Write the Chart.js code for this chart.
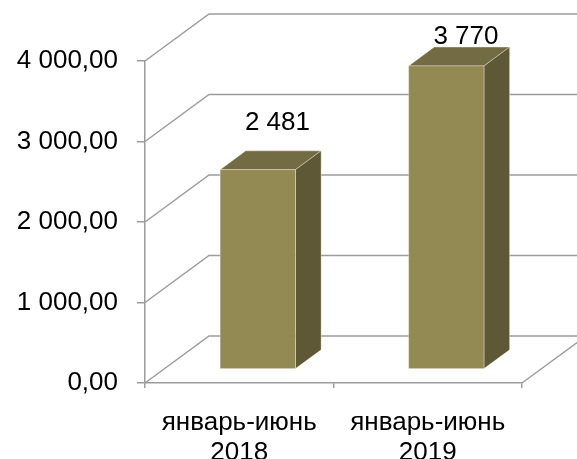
<!DOCTYPE html>
<html>
<head>
<meta charset="utf-8">
<script src="https://cdn.jsdelivr.net/npm/chart.js@4.4.0/dist/chart.umd.min.js"></script>
<style>
html, body { margin: 0; padding: 0; background: #fff; }
#wrap { width: 577px; height: 459px; }
</style>
</head>
<body>
<div id="wrap"><canvas id="chart" width="577" height="459"></canvas></div>
<script>
// данные
const categories = [['январь-июнь', '2018'], ['январь-июнь', '2019']];
const values = [2481, 3770];
const yTicks = [0, 1000, 2000, 3000, 4000];

// стили
const FRONT = '#938953', TOP = '#736B44', SIDE = '#5E5836';
const GRID = '#9c9c9c';
const DEPTH_X = 64, DEPTH_Y = 47;          // глубина "коробки"
const BAR_FRONT = 0.29, BAR_BACK = 0.69;   // положение столбика по глубине
const FONT = '"Liberation Sans", Arial, sans-serif';
const FONT_SIZE = 26;

function fmtThousands(s) {
    return s.replace(/\B(?=(\d{3})+(?!\d))/g, ' ');
}
function fmtTick(v) {
    const p = Number(v).toFixed(2).split('.');
    return fmtThousands(p[0]) + ',' + p[1];
}

// рисуем стенки, подписи и объёмные столбики
const box3d = {
    id: 'box3d',
    beforeDatasetsDraw(chart) {
        const ctx = chart.ctx, a = chart.chartArea, ys = chart.scales.y;
        ctx.save();
        ctx.strokeStyle = GRID;
        ctx.lineWidth = 1.5;
        ctx.beginPath();
        yTicks.forEach(v => {
            const py = ys.getPixelForValue(v);
            ctx.moveTo(a.left, py);
            ctx.lineTo(a.left + DEPTH_X, py - DEPTH_Y);
            ctx.lineTo(a.right + DEPTH_X, py - DEPTH_Y);
        });
        ctx.moveTo(a.right, a.bottom);
        ctx.lineTo(a.right + DEPTH_X, a.bottom - DEPTH_Y);
        ctx.stroke();

        const bars = chart.getDatasetMeta(0).data;

        // подписи значений (до столбиков - верх столбика их перекрывает)
        ctx.fillStyle = '#000';
        ctx.font = FONT_SIZE + 'px ' + FONT;
        ctx.textAlign = 'center';
        ctx.textBaseline = 'middle';
        bars.forEach((b, i) => {
            const backTop = b.y - BAR_BACK * DEPTH_Y;
            const ly = Math.max(backTop - 28, a.top - 24);
            ctx.fillText(fmtThousands(String(values[i])), b.x + BAR_BACK * DEPTH_X - 6, ly);
        });

        bars.forEach(b => {
            const fx = b.x - b.width / 2 + BAR_FRONT * DEPTH_X;
            const fy = b.y - BAR_FRONT * DEPTH_Y;
            const fb = b.base - BAR_FRONT * DEPTH_Y;
            const w = b.width;
            const dx = (BAR_BACK - BAR_FRONT) * DEPTH_X;
            const dy = (BAR_BACK - BAR_FRONT) * DEPTH_Y;
            ctx.strokeStyle = 'rgba(255,255,240,0.35)';
            ctx.lineWidth = 1;
            ctx.lineJoin = 'round';
            // верх
            ctx.beginPath();
            ctx.moveTo(fx, fy);
            ctx.lineTo(fx + dx, fy - dy);
            ctx.lineTo(fx + w + dx, fy - dy);
            ctx.lineTo(fx + w, fy);
            ctx.closePath();
            ctx.fillStyle = TOP;
            ctx.fill();
            ctx.stroke();
            // бок
            ctx.beginPath();
            ctx.moveTo(fx + w, fy);
            ctx.lineTo(fx + w + dx, fy - dy);
            ctx.lineTo(fx + w + dx, fb - dy);
            ctx.lineTo(fx + w, fb);
            ctx.closePath();
            ctx.fillStyle = SIDE;
            ctx.fill();
            ctx.stroke();
            // перед
            ctx.fillStyle = FRONT;
            ctx.fillRect(fx, fy, w, fb - fy);
            ctx.strokeRect(fx, fy, w, fb - fy);
        });
        ctx.restore();
        return false;
    }
};

new Chart(document.getElementById('chart'), {
    type: 'bar',
    data: {
        labels: categories,
        datasets: [{
            data: values,
            backgroundColor: FRONT,
            barPercentage: 0.5,
            categoryPercentage: 0.8
        }]
    },
    options: {
        responsive: false,
        animation: false,
        layout: { padding: { top: 61, right: 55, left: 0, bottom: 0 } },
        plugins: { legend: { display: false }, tooltip: { enabled: false } },
        scales: {
            y: {
                min: 0,
                max: 4000,
                afterFit(s) { s.width = 145; },
                afterBuildTicks(s) { s.ticks = yTicks.map(v => ({ value: v })); },
                ticks: {
                    callback: fmtTick,
                    color: '#000',
                    padding: 19,
                    font: { family: FONT, size: FONT_SIZE }
                },
                grid: { drawOnChartArea: false, tickLength: 8, color: GRID, lineWidth: 1.5 },
                border: { color: GRID, width: 1.5 }
            },
            x: {
                afterFit(s) { s.height = 76; },
                ticks: {
                    color: '#000',
                    padding: 20,
                    maxRotation: 0,
                    font: { family: FONT, size: FONT_SIZE, lineHeight: 1.15 }
                },
                grid: { drawOnChartArea: false, offset: true, tickLength: 5, color: GRID, lineWidth: 1.5 },
                border: { color: GRID, width: 1.5 }
            }
        }
    },
    plugins: [box3d]
});
</script>
</body>
</html>
